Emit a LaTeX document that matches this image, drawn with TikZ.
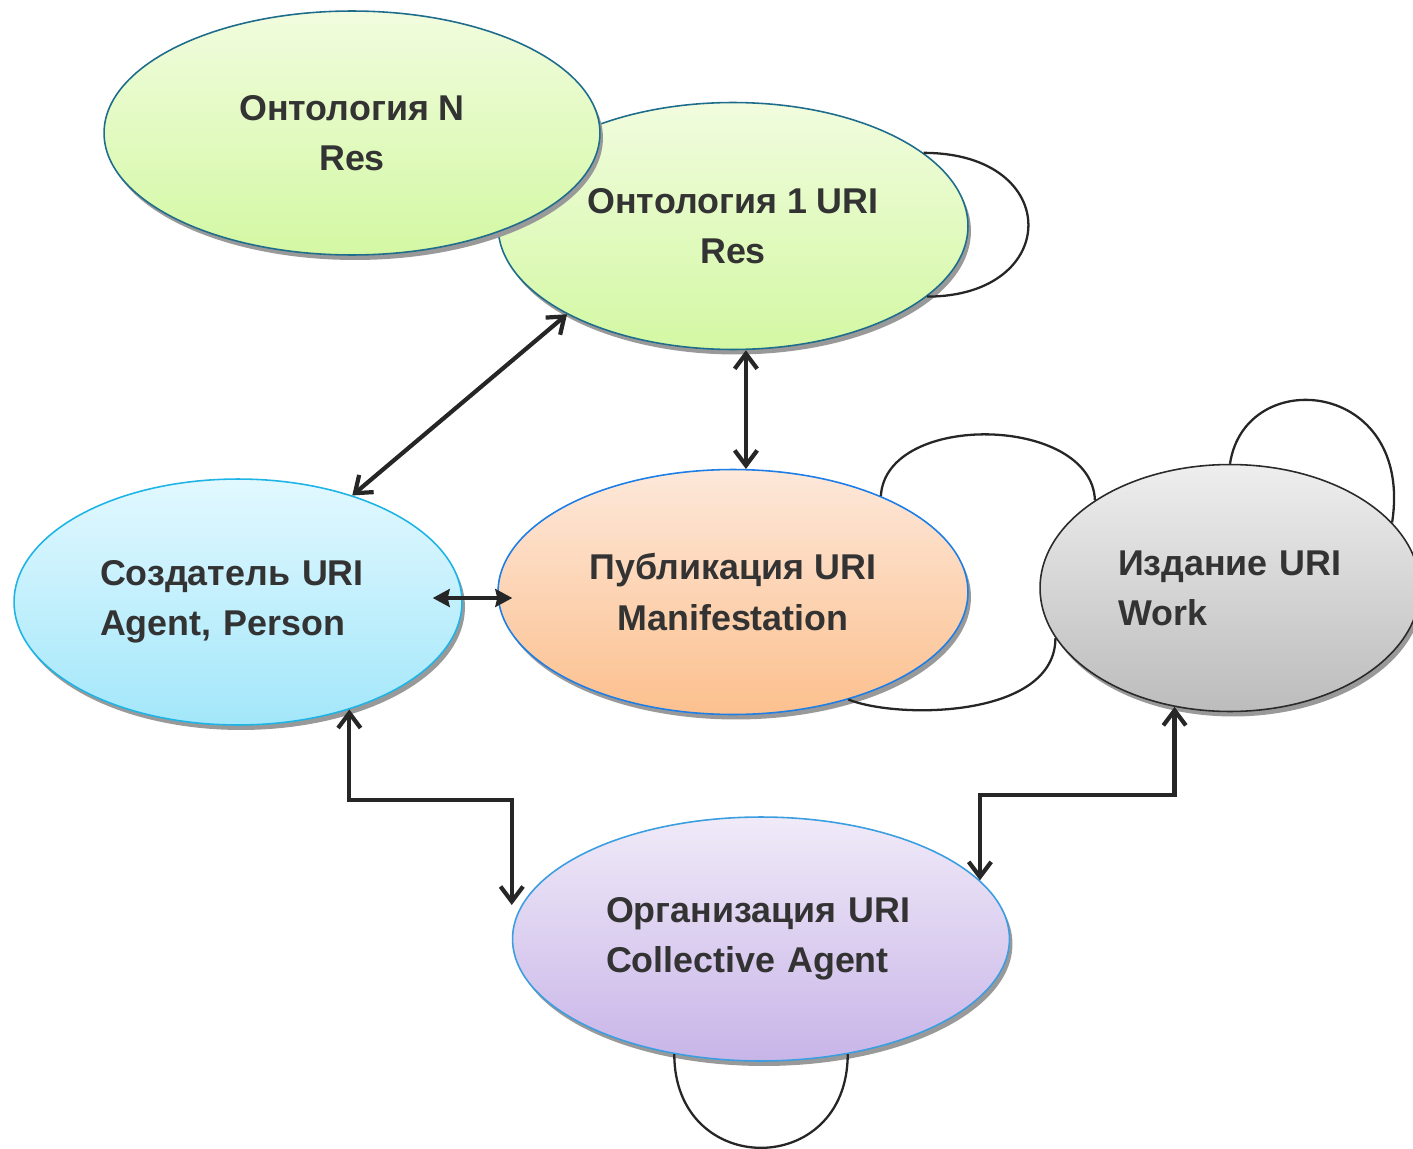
\documentclass[tikz,border=0pt]{standalone}
\usepackage{fontspec}
\setmainfont{Liberation Sans}
\usetikzlibrary{shapes.geometric,arrows.meta,shadows,calc}

\definecolor{greentop}{HTML}{F1FCDE}
\definecolor{greenbot}{HTML}{D3F8A3}
\definecolor{greenline}{HTML}{1F6D8C}
\definecolor{cyantop}{HTML}{E2F8FF}
\definecolor{cyanbot}{HTML}{A3E7FA}
\definecolor{cyanline}{HTML}{1EB4E6}
\definecolor{peachtop}{HTML}{FDE8DA}
\definecolor{peachbot}{HTML}{FCC08E}
\definecolor{peachline}{HTML}{1C7EE6}
\definecolor{graytop}{HTML}{EEEEEE}
\definecolor{graybot}{HTML}{BCBCBC}
\definecolor{grayline}{HTML}{2A2A2A}
\definecolor{lilactop}{HTML}{F0EAF8}
\definecolor{lilacbot}{HTML}{C8B5E8}
\definecolor{lilacline}{HTML}{3A9EE0}
\definecolor{textgray}{HTML}{333333}
\definecolor{linkgray}{HTML}{262626}

\begin{document}
\begin{tikzpicture}[x=0.02cm,y=-0.02cm,
  entity/.style={ellipse, draw, line width=0.9pt, text=textgray,
    font=\fontsize{20.4}{28.5}\selectfont\bfseries,
    general shadow={fill=black!40, shadow xshift=0.06cm, shadow yshift=-0.1cm}},
  link/.style={line width=2.4pt, draw=linkgray,
    {Straight Barb[length=0.3cm,width=0.45cm]}-{Straight Barb[length=0.3cm,width=0.45cm]}},
  flink/.style={line width=1.8pt, draw=linkgray,
    {Stealth[length=0.34cm,width=0.36cm,inset=0.04cm]}-{Stealth[length=0.34cm,width=0.36cm,inset=0.04cm]}},
  curl/.style={line width=1.3pt, draw=linkgray}]
  \clip (0,0) rectangle (1413,1149);

  \node[entity, top color=greentop, bottom color=greenbot, draw=greenline, align=center,
        minimum width=9.4cm, minimum height=4.94cm] (Ont1) at (733,226) {Онтология 1 URI\\Res};
  \node[entity, top color=greentop, bottom color=greenbot, draw=greenline, align=center,
        minimum width=9.92cm, minimum height=4.88cm] (OntN) at (352,133) {Онтология N\\Res};
  \node[entity, top color=cyantop, bottom color=cyanbot, draw=cyanline, align=left, text width=5.52cm,
        minimum width=8.96cm, minimum height=4.92cm] (Creator) at (238,602) {Создатель URI\\Agent, Person};
  \node[entity, top color=peachtop, bottom color=peachbot, draw=peachline, align=center,
        minimum width=9.4cm, minimum height=4.9cm] (Pub) at (733,592) {Публикация URI\\Manifestation};
  \node[entity, top color=graytop, bottom color=graybot, draw=grayline, align=left, text width=4.48cm,
        minimum width=7.6cm, minimum height=4.94cm] (Ed) at (1230,588) {Издание URI\\Work};
  \node[entity, top color=lilactop, bottom color=lilacbot, draw=lilacline, align=left, text width=6.2cm,
        minimum width=9.94cm, minimum height=4.88cm] (Org) at (761,939) {Организация URI\\Collective Agent};

  % links
  \draw[link] (Ont1.208) -- (Creator.43);
  \draw[link] (Pub.84) -- (Pub.84 |- Ont1.south);
  \draw[flink] ($(Creator.east)+(-30,-4)$) -- ($(Pub.west |- Creator.east)+(15,-4)$);
  \draw[link] (Creator.-44) -- (Creator.-44 |- 0,800) -| ($(Org.west)+(0,-34)$);
  \draw[link] (Ed.-115.5) |- (Org.15 |- 0,795) -- (Org.15);

  % loops
  \draw[curl] (Ont1.21) .. controls +(140,0) and +(135,0) .. (Ont1.-20);
  \draw[curl] (Pub.33) .. controls +(5,-85) and +(-3,-85) .. (Ed.147);
  \draw[curl] (Pub.-43) .. controls +(50,20) and +(0,80) .. (Ed.196);
  \draw[curl] (Ed.90) .. controls +(15,-100) and +(22,-143) .. (Ed.22);
  \draw[curl] (Org.-127) .. controls +(0,125) and +(0,125) .. (Org.-53);
\end{tikzpicture}
\end{document}
